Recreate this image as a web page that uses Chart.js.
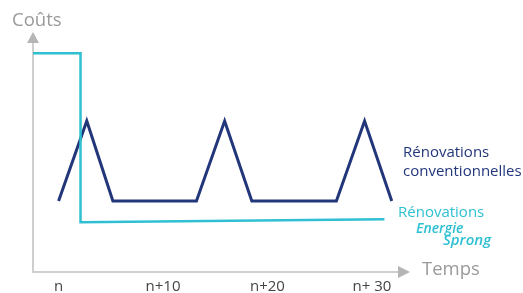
<!DOCTYPE html>
<html>
<head>
<meta charset="utf-8">
<script src="https://cdn.jsdelivr.net/npm/chart.js@4"></script>
<style>
  html, body { margin: 0; padding: 0; background: #fff; }
  #wrap { width: 523px; height: 293px; }
</style>
</head>
<body>
<div id="wrap"><canvas id="costChart" width="523" height="293"></canvas></div>
<script>
// years after renovation (n = 0) and relative cost
const conventionalX = [0, 2.7, 5.2, 13.2, 15.9, 18.5, 26.6, 29.3, 31.9];
const conventionalY = [35, 74.5, 35, 35, 74.5, 35, 35, 74.5, 35];
const sprongX = [-2.45, 2.1, 2.1, 31.2];
const sprongY = [108, 108, 24.5, 26];
const tickValues = [0, 10, 20, 30];
const tickLabels = ['n', 'n+10', 'n+20', 'n+ 30'];

const navy = '#22367a';
const cyan = '#2ec0d2';
const axisGrey = '#cfcfcf';

function toPoints(xs, ys) {
  return xs.map(function (x, i) { return { x: x, y: ys[i] }; });
}

// arrows, axis names and series labels
const decorations = {
  id: 'decorations',
  afterDraw: function (chart) {
    const c = chart.ctx;
    const area = chart.chartArea;
    c.save();
    c.fillStyle = '#b5b5b5';
    c.beginPath();
    c.moveTo(area.left, area.top - 11);
    c.lineTo(area.left - 6, area.top);
    c.lineTo(area.left + 6, area.top);
    c.closePath();
    c.fill();
    c.beginPath();
    c.moveTo(area.right + 12, area.bottom);
    c.lineTo(area.right, area.bottom - 6);
    c.lineTo(area.right, area.bottom + 6);
    c.closePath();
    c.fill();

    c.textBaseline = 'middle';
    c.fillStyle = '#9a9a9a';
    c.font = '18.5px "Open Sans"';
    c.fillText('Coûts', 12, 21);
    c.fillText('Temps', 422, 270);

    c.fillStyle = navy;
    c.font = '15px "Open Sans"';
    c.fillText('Rénovations', 403, 153);
    c.fillText('conventionnelles', 403, 172);

    c.fillStyle = cyan;
    c.fillText('Rénovations', 398, 213);
    c.font = 'italic 600 14px "Open Sans"';
    c.fillText('Energie', 416, 229);
    c.font = 'italic 600 15px "Open Sans"';
    c.fillText('Sprong', 443, 241);
    c.restore();
  }
};

new Chart(document.getElementById('costChart'), {
  type: 'scatter',
  data: {
    datasets: [{
      label: 'Rénovations Energie Sprong',
      data: toPoints(sprongX, sprongY),
      showLine: true,
      borderColor: cyan,
      borderWidth: 2.5,
      pointRadius: 0,
      tension: 0
    }, {
      label: 'Rénovations conventionnelles',
      data: toPoints(conventionalX, conventionalY),
      showLine: true,
      borderColor: navy,
      borderWidth: 3,
      borderJoinStyle: 'miter',
      pointRadius: 0,
      tension: 0
    }]
  },
  options: {
    responsive: false,
    animation: false,
    clip: false,
    layout: { padding: { left: 33, right: 125, top: 43, bottom: -9 } },
    plugins: {
      legend: { display: false },
      tooltip: { enabled: false }
    },
    scales: {
      x: {
        type: 'linear',
        min: -2.45,
        max: 32.5,
        afterBuildTicks: function (axis) {
          axis.ticks = tickValues.map(function (v) { return { value: v }; });
        },
        grid: { display: false, drawTicks: false },
        border: { display: true, color: axisGrey, width: 2 },
        ticks: {
          padding: 6,
          color: '#444',
          font: { family: 'Open Sans', size: 15 },
          maxRotation: 0,
          callback: function (v) {
            const i = tickValues.indexOf(v);
            return i >= 0 ? tickLabels[i] : '';
          }
        }
      },
      y: {
        min: 0,
        max: 113,
        grid: { display: false, drawTicks: false },
        border: { display: true, color: axisGrey, width: 2 },
        ticks: { display: false }
      }
    }
  },
  plugins: [decorations]
});
</script>
</body>
</html>
